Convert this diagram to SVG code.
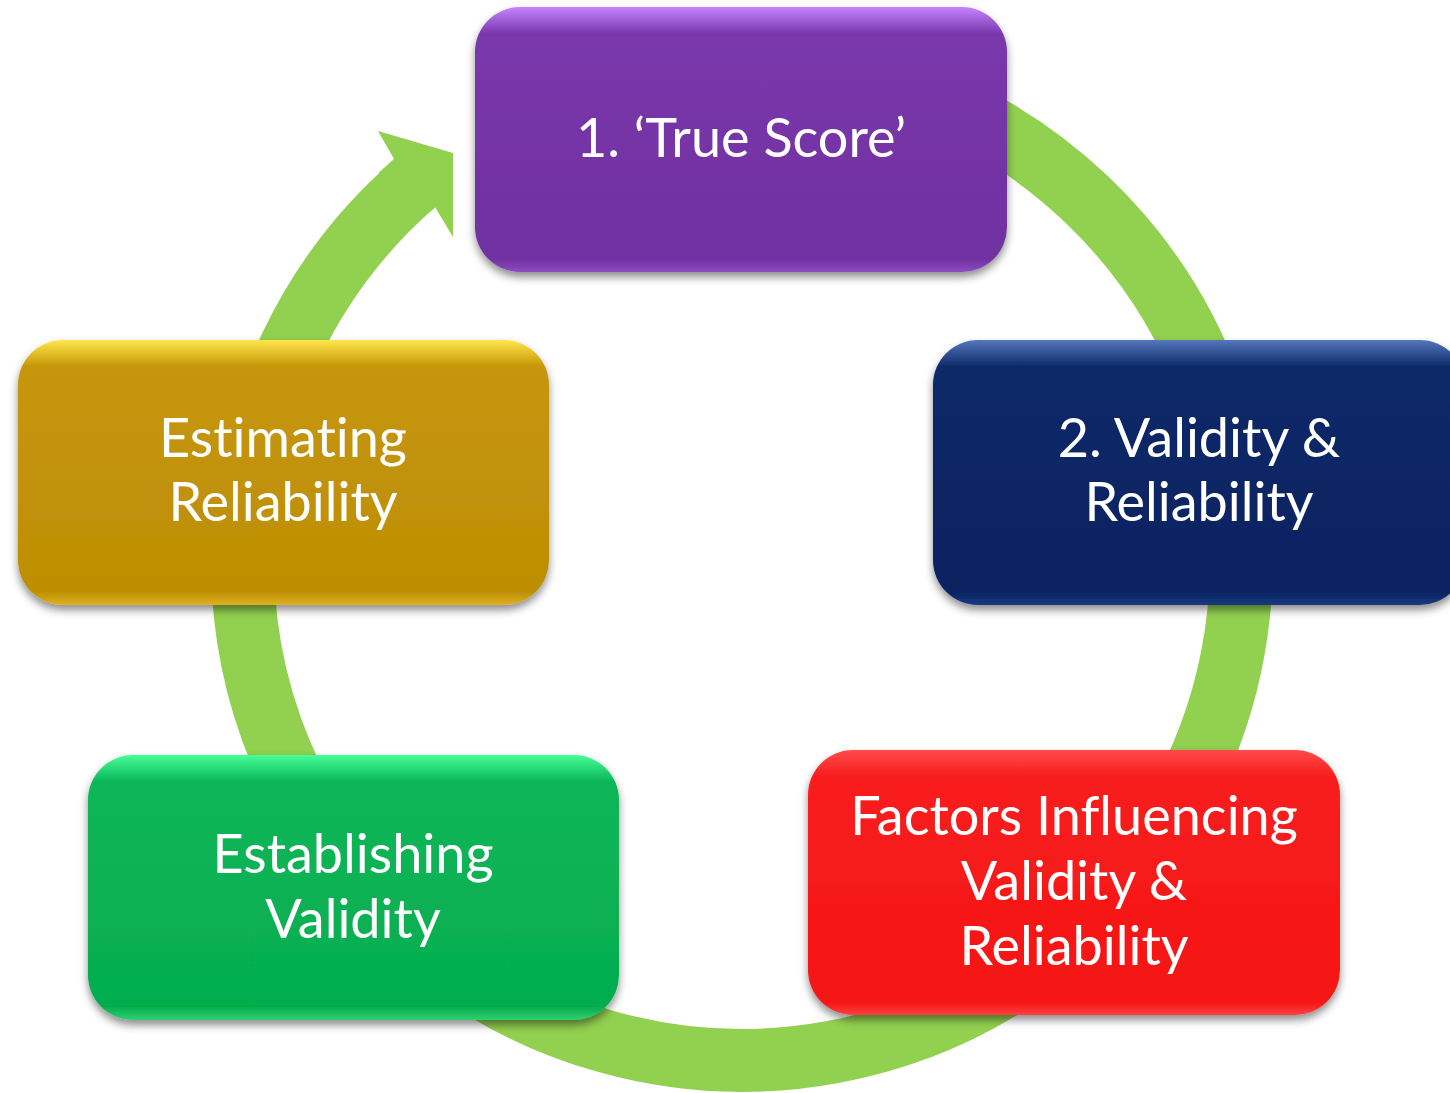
<svg xmlns="http://www.w3.org/2000/svg" width="1450" height="1093" viewBox="0 0 1450 1093">
<style>
.lbl{font-family:Lato,"Open Sans","Liberation Sans",sans-serif;font-size:54px;fill:#ffffff;text-anchor:middle;font-variant-ligatures:none}
.ring{fill:none;stroke:#92D050;stroke-width:63}
</style>
<defs>
<filter id="sh" x="-10%" y="-10%" width="120%" height="130%">
<feDropShadow dx="0" dy="5" stdDeviation="4" flood-color="#000" flood-opacity="0.45"/>
</filter>
<linearGradient id="gP" x1="0" y1="0" x2="0" y2="1">
<stop offset="0" stop-color="#C584FF"/><stop offset="0.1" stop-color="#7A38AC"/><stop offset="0.95" stop-color="#7030A0"/><stop offset="1" stop-color="#8A4CC0"/>
</linearGradient>
<linearGradient id="gN" x1="0" y1="0" x2="0" y2="1">
<stop offset="0" stop-color="#5478BE"/><stop offset="0.1" stop-color="#0E2A68"/><stop offset="0.95" stop-color="#082261"/><stop offset="1" stop-color="#1A3A80"/>
</linearGradient>
<linearGradient id="gG" x1="0" y1="0" x2="0" y2="1">
<stop offset="0" stop-color="#FFE64A"/><stop offset="0.1" stop-color="#C6960A"/><stop offset="0.95" stop-color="#BD8E05"/><stop offset="1" stop-color="#E0B020"/>
</linearGradient>
<linearGradient id="gE" x1="0" y1="0" x2="0" y2="1">
<stop offset="0" stop-color="#46FF98"/><stop offset="0.1" stop-color="#0BB658"/><stop offset="0.95" stop-color="#05AD4E"/><stop offset="1" stop-color="#30D070"/>
</linearGradient>
<linearGradient id="gR" x1="0" y1="0" x2="0" y2="1">
<stop offset="0" stop-color="#FF4A4A"/><stop offset="0.1" stop-color="#F81E1E"/><stop offset="0.95" stop-color="#F51515"/><stop offset="1" stop-color="#FF4040"/>
</linearGradient>
</defs>
<rect width="1450" height="1093" fill="#ffffff"/>
<g id="connectors">
<path class="ring" d="M912,91.2 A499.5,499.5 0 1 1 414.9,183.3"/>
<polygon fill="#92D050" points="378.9,172.6 394,159 378,131 453,153 453,237 435,207 421.8,218.7"/>
</g>
<g id="node1">
<rect x="475" y="7" width="532" height="265" rx="45" fill="url(#gP)" filter="url(#sh)"/>
<text class="lbl" x="741" y="157">1. ‘True Score’</text>
</g>
<g id="node2">
<rect x="933" y="340" width="532" height="265" rx="45" fill="url(#gN)" filter="url(#sh)"/>
<text class="lbl" x="1199" y="457">2. Validity &amp;</text>
<text class="lbl" x="1199" y="521">Reliability</text>
</g>
<g id="node3">
<rect x="808" y="750" width="532" height="265" rx="45" fill="url(#gR)" filter="url(#sh)"/>
<text class="lbl" x="1074" y="835">Factors Influencing</text>
<text class="lbl" x="1074" y="900">Validity &amp;</text>
<text class="lbl" x="1074" y="965">Reliability</text>
</g>
<g id="node4">
<rect x="88" y="755" width="531" height="265" rx="45" fill="url(#gE)" filter="url(#sh)"/>
<text class="lbl" x="353" y="873">Establishing</text>
<text class="lbl" x="353" y="938">Validity</text>
</g>
<g id="node5">
<rect x="18" y="340" width="531" height="265" rx="45" fill="url(#gG)" filter="url(#sh)"/>
<text class="lbl" x="283" y="457">Estimating</text>
<text class="lbl" x="283" y="521">Reliability</text>
</g>
</svg>
